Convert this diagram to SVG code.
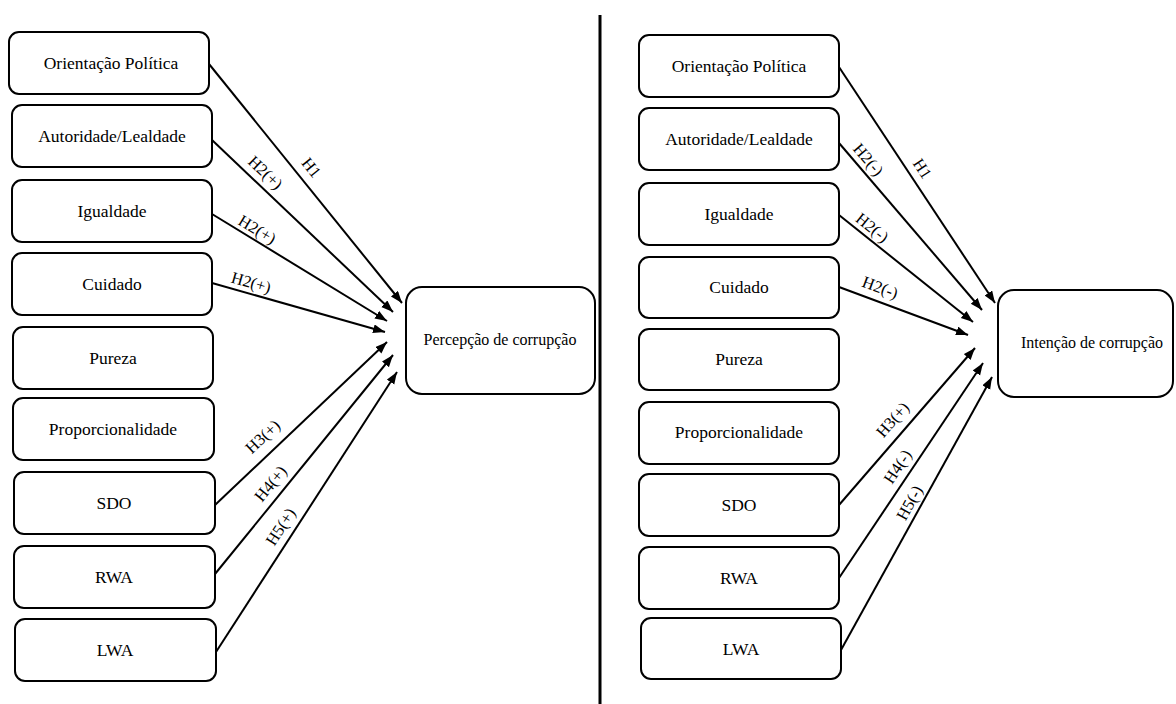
<svg xmlns="http://www.w3.org/2000/svg" width="1176" height="704" viewBox="0 0 1176 704">
<style>
.box{fill:#fff;stroke:#000;stroke-width:2}
.t{font-family:"Liberation Serif","Times New Roman","DejaVu Serif",serif;font-size:17.5px;fill:#000;text-anchor:middle}
.tt{font-family:"Liberation Serif","Times New Roman","DejaVu Serif",serif;font-size:16px;fill:#000;text-anchor:middle}
.c{stroke:#000;stroke-width:2;fill:none;marker-end:url(#ah)}
.lbl{font-family:"Liberation Serif","Times New Roman","DejaVu Serif",serif;font-size:16.5px;fill:#000;text-anchor:middle}
</style>
<defs>
<marker id="ah" markerUnits="userSpaceOnUse" markerWidth="13" markerHeight="10" refX="12" refY="4.5" orient="auto">
<path d="M0,0 L12,4.5 L0,9 z" fill="#000"/>
</marker>
</defs>
<rect width="1176" height="704" fill="#fff"/>
<line x1="600" y1="15" x2="600" y2="704" stroke="#000" stroke-width="3"/>

<g id="left-nodes">
<g id="L1"><rect class="box" x="9" y="32" width="200" height="62" rx="10"/><text class="t" x="111" y="69">Orientação Política</text></g>
<g id="L2"><rect class="box" x="12" y="105" width="200" height="62" rx="10"/><text class="t" x="112" y="142">Autoridade/Lealdade</text></g>
<g id="L3"><rect class="box" x="12" y="180" width="200" height="62" rx="10"/><text class="t" x="112" y="217">Igualdade</text></g>
<g id="L4"><rect class="box" x="12" y="253" width="200" height="62" rx="10"/><text class="t" x="112" y="290">Cuidado</text></g>
<g id="L5"><rect class="box" x="13" y="327" width="200" height="62" rx="10"/><text class="t" x="113" y="364">Pureza</text></g>
<g id="L6"><rect class="box" x="13" y="398" width="201" height="62" rx="10"/><text class="t" x="113" y="435">Proporcionalidade</text></g>
<g id="L7"><rect class="box" x="14" y="472" width="201" height="62" rx="10"/><text class="t" x="114" y="509">SDO</text></g>
<g id="L8"><rect class="box" x="14" y="546" width="201" height="62" rx="10"/><text class="t" x="114" y="583">RWA</text></g>
<g id="L9"><rect class="box" x="15" y="619" width="201" height="62" rx="10"/><text class="t" x="115" y="656">LWA</text></g>
<g id="LT"><rect class="box" x="406" y="287" width="189" height="107" rx="16"/><text class="tt" x="500" y="345">Percepção de corrupção</text></g>
</g>

<g id="right-nodes">
<g id="R1"><rect class="box" x="639" y="35" width="200" height="62" rx="10"/><text class="t" x="739" y="72">Orientação Política</text></g>
<g id="R2"><rect class="box" x="639" y="108" width="200" height="62" rx="10"/><text class="t" x="739" y="145">Autoridade/Lealdade</text></g>
<g id="R3"><rect class="box" x="639" y="183" width="200" height="62" rx="10"/><text class="t" x="739" y="220">Igualdade</text></g>
<g id="R4"><rect class="box" x="639" y="257" width="200" height="61" rx="10"/><text class="t" x="739" y="293">Cuidado</text></g>
<g id="R5"><rect class="box" x="639" y="329" width="200" height="61" rx="10"/><text class="t" x="739" y="365">Pureza</text></g>
<g id="R6"><rect class="box" x="639" y="402" width="200" height="62" rx="10"/><text class="t" x="739" y="438">Proporcionalidade</text></g>
<g id="R7"><rect class="box" x="639" y="474" width="200" height="62" rx="10"/><text class="t" x="739" y="511">SDO</text></g>
<g id="R8"><rect class="box" x="639" y="547" width="200" height="62" rx="10"/><text class="t" x="739" y="584">RWA</text></g>
<g id="R9"><rect class="box" x="641" y="618" width="200" height="61" rx="10"/><text class="t" x="741" y="655">LWA</text></g>
<g id="RT"><rect class="box" x="998" y="290" width="175" height="107" rx="16"/><text class="tt" x="1092" y="348">Intenção de corrupção</text></g>
</g>

<g id="connectors">
<line class="c" x1="209" y1="64" x2="402" y2="303"/>
<line class="c" x1="212" y1="140" x2="393" y2="312"/>
<line class="c" x1="212" y1="214" x2="387" y2="321"/>
<line class="c" x1="212" y1="283" x2="385" y2="332"/>
<line class="c" x1="215" y1="505" x2="387" y2="342"/>
<line class="c" x1="215" y1="574" x2="393" y2="355"/>
<line class="c" x1="216" y1="652" x2="397" y2="372"/>

<line class="c" x1="839" y1="67" x2="995" y2="303"/>
<line class="c" x1="839" y1="143" x2="982" y2="310"/>
<line class="c" x1="839" y1="215" x2="973" y2="322"/>
<line class="c" x1="839" y1="287" x2="968" y2="335"/>
<line class="c" x1="839" y1="505" x2="975" y2="348"/>
<line class="c" x1="839" y1="578" x2="983" y2="363"/>
<line class="c" x1="841" y1="650" x2="992" y2="377"/>
</g>

<g id="labels">
<text class="lbl" transform="translate(311,168) rotate(51.1)" dy="5">H1</text>
<text class="lbl" transform="translate(265,173) rotate(43.7)" dy="5">H2(+)</text>
<text class="lbl" transform="translate(257,230) rotate(31.4)" dy="5">H2(+)</text>
<text class="lbl" transform="translate(251,283) rotate(16)" dy="5">H2(+)</text>
<text class="lbl" transform="translate(263,437) rotate(-43.5)" dy="5">H3(+)</text>
<text class="lbl" transform="translate(271,484) rotate(-50.9)" dy="5">H4(+)</text>
<text class="lbl" transform="translate(281,527) rotate(-57.1)" dy="5">H5(+)</text>

<text class="lbl" transform="translate(922,169) rotate(56.7)" dy="5">H1</text>
<text class="lbl" transform="translate(868,160) rotate(49.6)" dy="5">H2(-)</text>
<text class="lbl" transform="translate(872,228) rotate(38.8)" dy="5">H2(-)</text>
<text class="lbl" transform="translate(880,288) rotate(20.4)" dy="5">H2(-)</text>
<text class="lbl" transform="translate(893,420) rotate(-49.1)" dy="5">H3(+)</text>
<text class="lbl" transform="translate(898,467) rotate(-56.4)" dy="5">H4(-)</text>
<text class="lbl" transform="translate(910,503) rotate(-61.1)" dy="5">H5(-)</text>
</g>
</svg>
